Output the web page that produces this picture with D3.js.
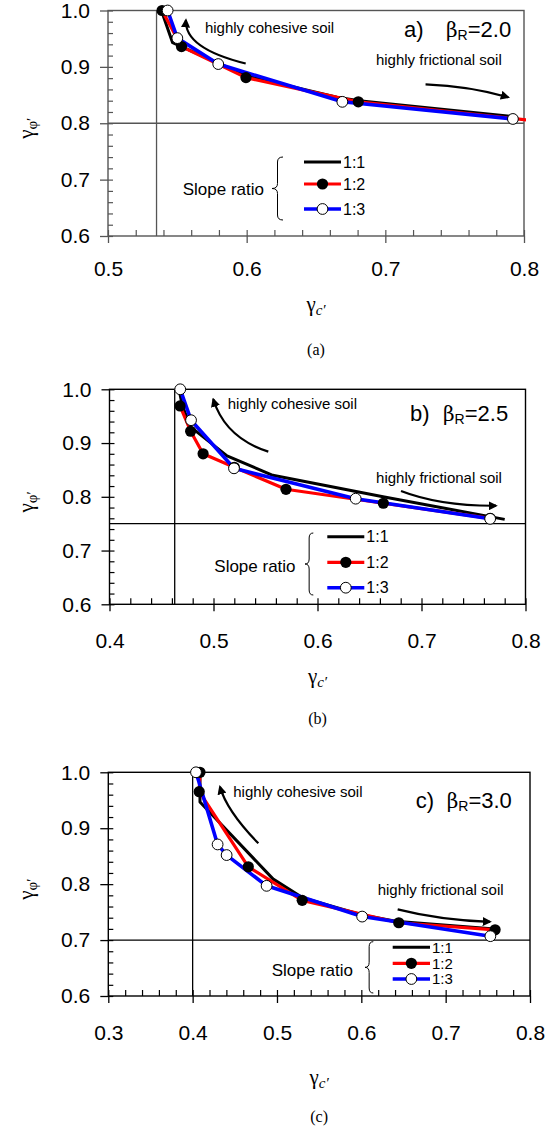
<!DOCTYPE html>
<html>
<head>
<meta charset="utf-8">
<script src="https://cdn.jsdelivr.net/npm/d3@7"></script>
<style>
  body { margin: 0; background: #fff; }
  text { font-family: "Liberation Sans", Arial, sans-serif; }
</style>
</head>
<body>
<svg id="fig" width="555" height="1129"></svg>
<script>
// ---------------- data ----------------
const yTicks = [0.6, 0.7, 0.8, 0.9, 1.0];
const xTicksA = [0.5, 0.6, 0.7, 0.8];
const xTicksB = [0.4, 0.5, 0.6, 0.7, 0.8];
const xTicksC = [0.3, 0.4, 0.5, 0.6, 0.7, 0.8];
const seriesNames = ["1:1", "1:2", "1:3"];
const panelTags = ["a", "b", "c"];
const betaValues = ["2.0", "2.5", "3.0"];
const limitX = [0.535, 0.4627, 0.4];   // vertical reference line, gamma_c'
const limitY = [0.80, 0.75, 0.70];     // horizontal reference line, gamma_phi'

// (a) beta_R = 2.0 : [gamma_c', gamma_phi']
const a11 = [[0.5385, 1.0], [0.5466, 0.943], [0.600, 0.884], [0.665, 0.846], [0.681, 0.840], [0.792, 0.812]];
const a12 = [[0.539, 1.0], [0.553, 0.936], [0.5995, 0.881], [0.6805, 0.838], [0.8015, 0.806]];
const a13 = [[0.543, 1.0], [0.550, 0.951], [0.5795, 0.905], [0.669, 0.838], [0.792, 0.8076]];

// (b) beta_R = 2.5
const b11 = [[0.4668, 1.0], [0.470, 0.970], [0.478, 0.930], [0.513, 0.876], [0.557, 0.840], [0.663, 0.800], [0.780, 0.758]];
const b12 = [[0.4678, 0.969], [0.478, 0.922], [0.490, 0.880], [0.520, 0.855], [0.5697, 0.814], [0.6633, 0.788], [0.766, 0.760]];
const b13 = [[0.468, 1.0], [0.4784, 0.9425], [0.5197, 0.853], [0.6367, 0.7965], [0.766, 0.759]];

// (c) beta_R = 3.0
const c11 = [[0.4087, 1.0], [0.4087, 0.947], [0.4955, 0.809], [0.530, 0.776], [0.601, 0.745], [0.644, 0.733], [0.758, 0.720]];
const c12 = [[0.4087, 1.0], [0.4078, 0.9653], [0.466, 0.831], [0.5299, 0.771], [0.6444, 0.731], [0.7586, 0.7184]];
const c13 = [[0.404, 1.0], [0.4296, 0.871], [0.4403, 0.852], [0.4877, 0.797], [0.601, 0.742], [0.753, 0.707]];

// ---------------- layout ----------------
const svg = d3.select("#fig");

const panels = [
  {
    tag: panelTags[0], beta: betaValues[0], xTicks: xTicksA, series: [a11, a12, a13],
    vline: limitX[0], hline: limitY[0],
    left: 108, right: 524, top: 10.5, bottom: 236, frame: "#555",
    labelPad: 18, titleY: 311, captionY: 355,
    cohesive: { text: [0.5699, 0.960], arrow: [[0.5993, 0.906], [0.555, 0.933], [0.5562, 0.983]] },
    frictional: { text: [0.6932, 0.9034], arrow: [[0.729, 0.869], [0.761, 0.866], [0.7886, 0.846]] },
    betaPos: [404, 37.3], betaGap: 42,
    legend: { x0: 304, x1: 341, ys: [162, 184, 209], brace: [272, 283, 157, 220], slope: [182.7, 195], font: 16 }
  },
  {
    tag: panelTags[1], beta: betaValues[1], xTicks: xTicksB, series: [b11, b12, b13],
    vline: limitX[1], hline: limitY[1],
    left: 109.5, right: 525.5, top: 389.3, bottom: 604.3, frame: "#000",
    labelPad: 22, titleY: 683, captionY: 724,
    cohesive: { text: [0.5137, 0.964], arrow: [[0.5527, 0.884], [0.5113, 0.9096], [0.4998, 0.9814]] },
    frictional: { text: [0.6563, 0.825], arrow: [[0.6803, 0.8108], [0.7178, 0.7826], [0.7716, 0.7834]] },
    betaPos: [410, 421], betaGap: 33,
    legend: { x0: 327.3, x1: 364.3, ys: [536.7, 562.3, 587.7], brace: [305, 313.3, 533, 595], slope: [214.3, 572], font: 16 }
  },
  {
    tag: panelTags[2], beta: betaValues[2], xTicks: xTicksC, series: [c11, c12, c13],
    vline: limitX[2], hline: limitY[2],
    left: 108.3, right: 530, top: 772.3, bottom: 996, frame: "#000",
    labelPad: 22, titleY: 1084, captionY: 1122,
    cohesive: { text: [0.4482, 0.9564], arrow: [[0.4779, 0.873], [0.4406, 0.9308], [0.4324, 0.974]] },
    frictional: { text: [0.6194, 0.7805], arrow: [[0.6431, 0.755], [0.6933, 0.7358], [0.7526, 0.7327]] },
    betaPos: [415.7, 807.7], betaGap: 31,
    legend: { x0: 392.7, x1: 430, ys: [947.3, 963.3, 979], brace: [365, 373.3, 941.7, 993], slope: [271.7, 976], font: 15 }
  }
];

const lineColors = ["#000", "#ff0000", "#0000ff"];
const lineWidths = [3, 3.2, 3.6];

// arrowhead
svg.append("defs").append("marker")
  .attr("id", "head").attr("viewBox", "0 0 10 10")
  .attr("refX", 8).attr("refY", 5)
  .attr("markerWidth", 4.2).attr("markerHeight", 4.2)
  .attr("orient", "auto")
  .append("path").attr("d", "M0,0 L10,5 L0,10 Z").attr("fill", "#000");

function brace(g, xl, xr, y0, y1) {
  const xm = (xl + xr) / 2, m = (y0 + y1) / 2, r = 5;
  const d = `M${xr},${y0} Q${xm},${y0} ${xm},${y0 + r} L${xm},${m - r} Q${xm},${m} ${xl},${m}` +
            ` Q${xm},${m} ${xm},${m + r} L${xm},${y1 - r} Q${xm},${y1} ${xr},${y1}`;
  g.append("path").attr("d", d).attr("fill", "none").attr("stroke", "#000").attr("stroke-width", 1);
}

function drawMarker(g, cx, cy, k) {
  if (k === 1) {
    g.append("circle").attr("cx", cx).attr("cy", cy).attr("r", 5.6).attr("fill", "#000");
  } else if (k === 2) {
    g.append("circle").attr("cx", cx).attr("cy", cy).attr("r", 5.4)
      .attr("fill", "#fff").attr("stroke", "#000").attr("stroke-width", 1);
  }
}

panels.forEach((p, pi) => {
  const g = svg.append("g");
  const xDom = [p.xTicks[0], p.xTicks[p.xTicks.length - 1]];
  const x = d3.scaleLinear().domain(xDom).range([p.left, p.right]);
  const y = d3.scaleLinear().domain([0.6, 1.0]).range([p.bottom, p.top]);

  const clipId = "clip" + pi;
  g.append("clipPath").attr("id", clipId).append("rect")
    .attr("x", p.left - 12).attr("y", p.top - 12)
    .attr("width", p.right - p.left + 14).attr("height", p.bottom - p.top + 12);

  // reference lines
  g.append("line").attr("x1", x(p.vline)).attr("x2", x(p.vline)).attr("y1", p.top).attr("y2", p.bottom)
    .attr("stroke", p.frame).attr("stroke-width", 1.3);
  g.append("line").attr("x1", p.left).attr("x2", p.right).attr("y1", y(p.hline)).attr("y2", y(p.hline))
    .attr("stroke", p.frame).attr("stroke-width", 1.3);

  // minor ticks (inside)
  const x0 = xDom[0], x1 = xDom[1];
  const xMinor = d3.range(Math.round((x1 - x0) / 0.02) + 1).map(i => x0 + i * 0.02);
  const yMinor = d3.range(21).map(i => 0.6 + i * 0.02);
  g.append("g").attr("transform", `translate(0,${p.bottom})`)
    .call(d3.axisTop(x).tickValues(xMinor).tickSize(6).tickFormat(""))
    .call(s => s.select(".domain").remove())
    .selectAll("line").attr("stroke", p.frame).attr("stroke-width", 1.2);
  g.append("g").attr("transform", `translate(${p.left},0)`)
    .call(d3.axisRight(y).tickValues(yMinor).tickSize(5).tickFormat(""))
    .call(s => s.select(".domain").remove())
    .selectAll("line").attr("stroke", p.frame).attr("stroke-width", 1.2);

  // major ticks + labels
  const xa = g.append("g").attr("transform", `translate(0,${p.bottom})`)
    .call(d3.axisBottom(x).tickValues(p.xTicks).tickSize(7).tickPadding(p.labelPad).tickFormat(d3.format(".1f")))
    .call(s => s.select(".domain").remove());
  xa.selectAll("line").attr("stroke", p.frame).attr("stroke-width", 1.3);
  xa.selectAll("text").attr("fill", "#000").style("font-size", "21px")
    .style("font-family", "'Liberation Sans', Arial, sans-serif");
  const ya = g.append("g").attr("transform", `translate(${p.left},0)`)
    .call(d3.axisLeft(y).tickValues(yTicks).tickSize(8).tickPadding(10).tickFormat(d3.format(".1f")))
    .call(s => s.select(".domain").remove());
  ya.selectAll("line").attr("stroke", p.frame).attr("stroke-width", 1.3);
  ya.selectAll("text").attr("fill", "#000").style("font-size", "21px")
    .style("font-family", "'Liberation Sans', Arial, sans-serif");

  // frame
  g.append("rect").attr("x", p.left).attr("y", p.top)
    .attr("width", p.right - p.left).attr("height", p.bottom - p.top)
    .attr("fill", "none").attr("stroke", p.frame).attr("stroke-width", 1.4);

  // series lines (clipped to the plot area), markers only inside the axis range
  const line = d3.line().x(d => x(d[0])).y(d => y(d[1]));
  const plot = g.append("g").attr("clip-path", `url(#${clipId})`);
  p.series.forEach((s, k) => {
    plot.append("path").attr("d", line(s)).attr("fill", "none")
      .attr("stroke", lineColors[k]).attr("stroke-width", lineWidths[k])
      .attr("stroke-linejoin", "round");
  });
  p.series.forEach((s, k) => {
    s.filter(d => d[0] >= xDom[0] && d[0] <= xDom[1])
      .forEach(d => drawMarker(g, x(d[0]), y(d[1]), k));
  });

  // annotations
  const curve = pts => {
    const q = pts.map(d => [x(d[0]), y(d[1])]);
    return `M${q[0][0]},${q[0][1]} Q${q[1][0]},${q[1][1]} ${q[2][0]},${q[2][1]}`;
  };
  [p.cohesive, p.frictional].forEach(a => {
    g.append("path").attr("d", curve(a.arrow)).attr("fill", "none")
      .attr("stroke", "#000").attr("stroke-width", 2.2).attr("marker-end", "url(#head)");
  });
  g.append("text").attr("x", x(p.cohesive.text[0])).attr("y", y(p.cohesive.text[1]))
    .style("font-size", "15px").text("highly cohesive soil");
  g.append("text").attr("x", x(p.frictional.text[0])).attr("y", y(p.frictional.text[1]))
    .style("font-size", "15px").text("highly frictional soil");

  // panel heading: a) beta_R = 2.0
  const bt = g.append("text").attr("x", p.betaPos[0]).attr("y", p.betaPos[1]).style("font-size", "22px");
  bt.append("tspan").text(p.tag + ")");
  bt.append("tspan").attr("x", p.betaPos[0] + p.betaGap)
    .style("font-family", "'DejaVu Serif', 'Liberation Serif', serif").style("font-size", "20px").text("β");
  bt.append("tspan").attr("dy", 3).style("font-size", "14px").text("R");
  bt.append("tspan").attr("dy", -3).text("=" + p.beta);

  // legend
  const L = p.legend;
  seriesNames.forEach((name, k) => {
    g.append("line").attr("x1", L.x0).attr("x2", L.x1).attr("y1", L.ys[k]).attr("y2", L.ys[k])
      .attr("stroke", lineColors[k]).attr("stroke-width", lineWidths[k]);
    drawMarker(g, (L.x0 + L.x1) / 2, L.ys[k], k);
    g.append("text").attr("x", L.x1 + 2).attr("y", L.ys[k] + L.font * 0.36)
      .style("font-size", L.font + "px").text(name);
  });
  brace(g, L.brace[0], L.brace[1], L.brace[2], L.brace[3]);
  g.append("text").attr("x", L.slope[0]).attr("y", L.slope[1]).style("font-size", "17px").text("Slope ratio");

  // axis titles
  const cx = (p.left + p.right) / 2;
  const xt = g.append("text").attr("x", cx).attr("y", p.titleY).attr("text-anchor", "middle")
    .style("font-family", "'Liberation Serif', 'Times New Roman', serif").style("font-size", "21px");
  xt.append("tspan").text("γ");
  xt.append("tspan").attr("dy", 4).style("font-style", "italic").style("font-size", "15px").text("c′");

  const cy = (p.top + p.bottom) / 2 + 5;
  const yt = g.append("text").attr("transform", `translate(33,${cy}) rotate(-90)`).attr("text-anchor", "middle")
    .style("font-family", "'Liberation Serif', 'Times New Roman', serif").style("font-size", "21px");
  yt.append("tspan").text("γ");
  yt.append("tspan").attr("dy", 4).style("font-size", "15px").text("φ′");

  g.append("text").attr("x", cx).attr("y", p.captionY).attr("text-anchor", "middle")
    .style("font-family", "'Liberation Serif', 'Times New Roman', serif").style("font-size", "16px")
    .text("(" + p.tag + ")");
});
</script>
</body>
</html>
